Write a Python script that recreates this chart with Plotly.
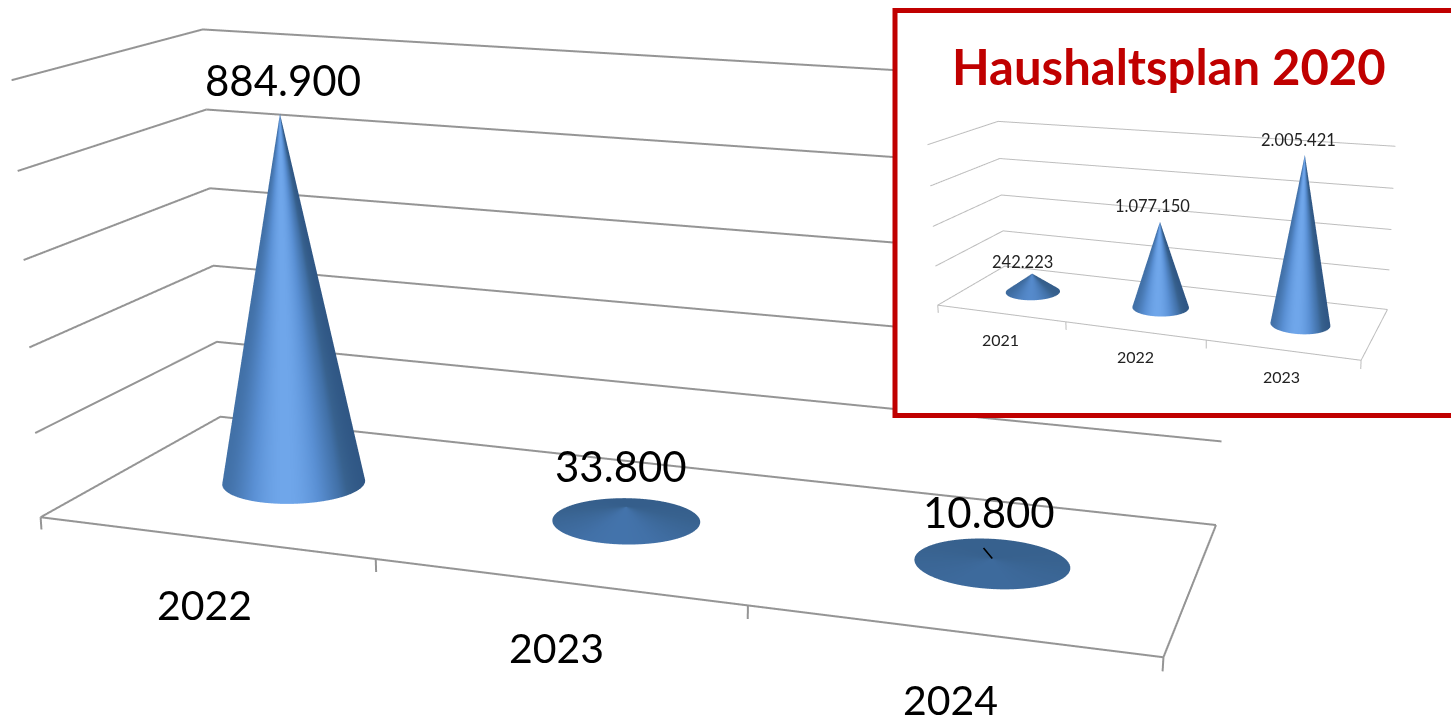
import numpy as np
import plotly.graph_objects as go

# ---- data ----
main_years = ["2022", "2023", "2024"]
main_values = [884900, 33800, 10800]
main_labels = ["884.900", "33.800", "10.800"]
main_levels = [0, 200000, 400000, 600000, 800000, 1000000]
inset_years = ["2021", "2022", "2023"]
inset_values = [242223, 1077150, 2005421]
inset_labels = ["242.223", "1.077.150", "2.005.421"]
inset_levels = [0, 500000, 1000000, 1500000, 2000000]
title_text = "Haushaltsplan 2020"

# ---- page geometry (figure is larger than the window so the camera lens is long) ----
FIG_W, FIG_H = 2902, 2079
OFF_X, OFF_Y = 726, 682
def fx(px): return (px + OFF_X) / FIG_W
def fy(py): return 1 - (py + OFF_Y) / FIG_H

MAIN_CAM = dict(eye=dict(x=1.443, y=-4.005, z=1.1032), center=dict(x=0.215, y=-0.124, z=-0.0258), up=dict(x=0.111, y=-0.38, z=1))
MAIN_ASPECT = dict(x=2, y=0.657, z=0.8124)
INSET_CAM = dict(eye=dict(x=1.714, y=-4.446, z=1.342), center=dict(x=0.004, y=0.161, z=0.047), up=dict(x=0.031, y=-0.07, z=1))
INSET_ASPECT = dict(x=2, y=0.646, z=0.809)
IN_H = 895; IN_W = 1000; IN_CX, IN_CY = 1173, 213

CONE_SCALE = [[0, '#2f5684'], [0.17, '#38628f'], [0.3, '#4271a8'], [0.7, '#5a90d4'], [1, '#6fa6ea']]

def axis_off(rng):
    return dict(range=rng, showgrid=False, showticklabels=False, zeroline=False, showline=False,
                showbackground=False, title='', showspikes=False, ticks='')

def cone(cx, value, ztop, cam, aspect, scene, rx=0.2, ry=0.19):
    th = np.linspace(0, 2 * np.pi, 241)
    s = np.linspace(0, 1, 3)
    T, S = np.meshgrid(th, s)
    cy = 0.5
    X = cx + rx * (1 - S) * np.cos(T)
    Y = cy + ry * (1 - S) * np.sin(T)
    Z = value * S
    bx = (cx / 3 - .5) * aspect['x']; by = (cy - .5) * aspect['y']
    th0 = np.arctan2(cam['eye']['y'] - by, cam['eye']['x'] - bx) - np.radians(6)
    c = np.cos(T - th0)
    p = np.sin(T - th0)
    frac = value / ztop
    k = min(1.0, (5 * frac) ** 1.5)
    steep = np.clip(0.16 - 0.14 * p + 0.84 * np.clip(c, 0, 1) ** 4, 0, 1)
    spread = min(0.09, 0.02 + 2 * frac)
    V = k * steep + (1 - k) * (0.19 + spread * c)
    return go.Surface(x=X, y=Y, z=Z, surfacecolor=V, cmin=0, cmax=1, colorscale=CONE_SCALE, showscale=False,
                      scene=scene, hoverinfo='skip', lighting=dict(ambient=1, diffuse=0, specular=0, roughness=1, fresnel=0),
                      contours=dict(x=dict(show=False), y=dict(show=False), z=dict(show=False)))

def frame_lines(levels, zlow, ticks, color, width, scene):
    x, y, z = [], [], []
    for v in levels:
        x += [0, 0, 3, None]; y += [0, 1, 1, None]; z += [v, v, v, None]
    x += [0, 3, 3, None]; y += [0, 0, 1, None]; z += [0, 0, 0, None]
    for t in ticks:
        x += [t, t, None]; y += [0, 0, None]; z += [0, zlow, None]
    return go.Scatter3d(x=x, y=y, z=z, mode='lines', line=dict(color=color, width=width), scene=scene,
                        hoverinfo='skip', showlegend=False)

main_centers = [0.5, 1.49, 2.49]
inset_centers = [0.5, 1.5, 2.5]
fig = go.Figure()
fig.add_trace(frame_lines(main_levels, -30000, [0, .985, 1.985, 3], '#959595', 4, 'scene'))
for cx, v in zip(main_centers, main_values):
    fig.add_trace(cone(cx, v, main_levels[-1], MAIN_CAM, MAIN_ASPECT, 'scene'))
fig.add_trace(go.Scatter3d(x=[0], y=[0], z=[0], mode='markers', marker=dict(size=1, color='white', opacity=0),
                           scene='scene2', hoverinfo='skip', showlegend=False))
fig.add_trace(frame_lines(inset_levels, -100000, [0, 1, 2, 3], '#bdbdbd', 2, 'scene3'))
for cx, v in zip(inset_centers, inset_values):
    fig.add_trace(cone(cx, v, inset_levels[-1], INSET_CAM, INSET_ASPECT, 'scene3'))

def anns(centers, years, labels, values, size, lsize, vshift, cshift, color):
    out = []
    for i in range(3):
        out.append(dict(x=centers[i], y=.5, z=values[i], text=labels[i], showarrow=False, xshift=vshift[i][0], yshift=vshift[i][1],
                        font=dict(family='Lato', size=lsize, color=color)))
        out.append(dict(x=i + .5, y=0, z=0, text=years[i], showarrow=False, xshift=cshift[i][0], yshift=cshift[i][1],
                        font=dict(family='Lato', size=size, color=color)))
    return out

main_anns = anns(main_centers, main_years, main_labels, main_values, 41, 42,
                 [(3, 34), (-5, 41), (-3, 47)], [(-3, -67), (-7, -65), (-3, -68)], 'black')
main_anns.append(dict(x=main_centers[2], y=.5, z=main_values[2], text='', showarrow=True, arrowhead=0, arrowwidth=1.6, arrowcolor='black',
                      ax=-10, ay=-12, standoff=0))
inset_anns = anns(inset_centers, inset_years, inset_labels, inset_values, 16, 16.5,
                  [(-10, 11), (-7, 15), (-6, 14)], [(0, -27), (1, -26), (0, -27)], '#222222')

fig.update_layout(
    width=FIG_W, height=FIG_H, margin=dict(l=0, r=0, t=0, b=0), paper_bgcolor='white',
    scene=dict(domain=dict(x=[0, 1], y=[0, 1]), xaxis=axis_off([0, 3]), yaxis=axis_off([0, 1]),
               zaxis=axis_off([-30000, 1003000]), aspectmode='manual', aspectratio=MAIN_ASPECT, camera=MAIN_CAM,
               annotations=main_anns),
    scene2=dict(domain=dict(x=[fx(897), 1], y=[fy(413), fy(13)]), bgcolor='white', xaxis=axis_off([-1, 1]),
                yaxis=axis_off([-1, 1]), zaxis=axis_off([-1, 1])),
    scene3=dict(domain=dict(x=[fx(IN_CX - IN_W / 2), fx(IN_CX + IN_W / 2)], y=[fy(IN_CY + IN_H / 2), fy(IN_CY - IN_H / 2)]),
                xaxis=axis_off([0, 3]), yaxis=axis_off([0, 1]), zaxis=axis_off([-100000, 2000000 * 1.0028]),
                aspectmode='manual', aspectratio=INSET_ASPECT, camera=INSET_CAM, annotations=inset_anns),
    annotations=[dict(xref='paper', yref='paper', x=fx(1169), y=fy(66), text=title_text, showarrow=False,
                      font=dict(family='Lato', size=49, color='#c00000', weight='bold'))],
    shapes=[dict(type='rect', layer='above', xref='paper', yref='paper', x0=fx(895), x1=fx(1470), y0=fy(415.5), y1=fy(10.5),
                 line=dict(color='#c00000', width=5), fillcolor='rgba(0,0,0,0)')],
)
post = ("document.documentElement.style.overflow='hidden';document.body.style.overflow='hidden';document.body.style.margin='0';"
        "var g=document.getElementById('{plot_id}');g.style.position='absolute';"
        "g.style.left='-%dpx';g.style.top='-%dpx';" % (OFF_X, OFF_Y))
fig.write_html("out.html", config={'displayModeBar': False}, post_script=post)
